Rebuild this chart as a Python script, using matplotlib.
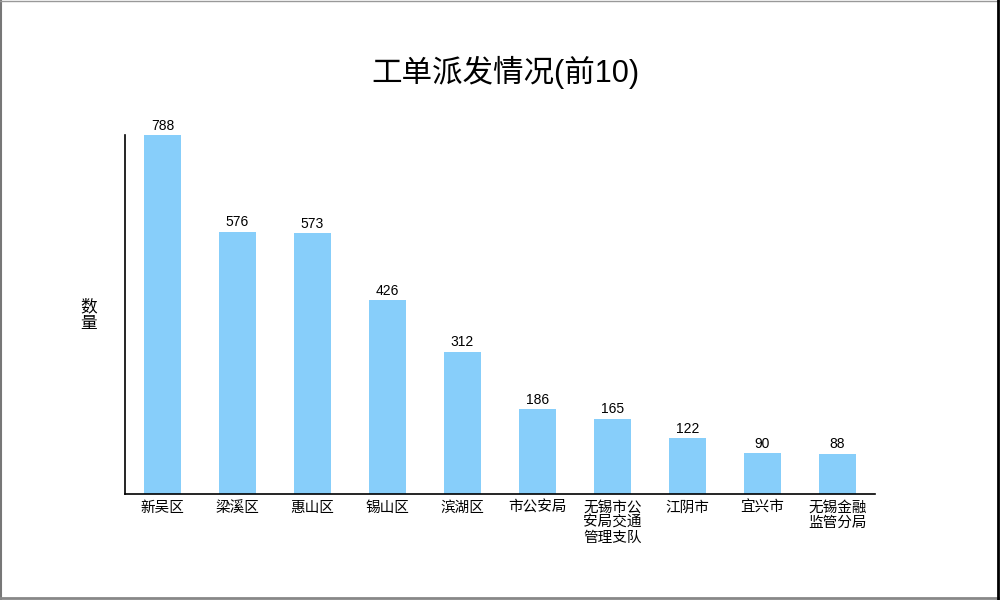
import textwrap
import matplotlib
matplotlib.use("Agg")
import matplotlib.pyplot as plt
from matplotlib.lines import Line2D

plt.rcParams['font.family'] = ['Liberation Sans', 'Noto Sans CJK SC', 'DejaVu Sans']

title = "工单派发情况(前10)"
ylabel = "数量"
categories = ["新吴区", "梁溪区", "惠山区", "锡山区", "滨湖区", "市公安局",
              "无锡市公安局交通管理支队", "江阴市", "宜兴市", "无锡金融监管分局"]
values = [788, 576, 573, 426, 312, 186, 165, 122, 90, 88]

fig = plt.figure(figsize=(10, 6), dpi=100)
ax = fig.add_axes([0.125, 0.177, 0.75, 0.598])

x = list(range(len(categories)))
bars = ax.bar(x, values, width=0.5, color="#87CEFA")
for xi, v in zip(x, values):
    ax.text(xi, v + 5, str(v), ha="center", va="bottom", fontsize=10, color="#000000")

ax.set_xlim(-0.5, len(categories) - 0.5)
ax.set_ylim(0, max(values))
ax.set_xticks(x)
ax.set_xticklabels(["\n".join(textwrap.wrap(c, 4)) for c in categories],
                   fontsize=10.5, linespacing=1.08, va="top")
ax.tick_params(axis="x", length=0, pad=5)
ax.set_yticks([])
for s in ["top", "right"]:
    ax.spines[s].set_visible(False)
ax.spines["left"].set_linewidth(1.2)
ax.spines["bottom"].set_linewidth(1.2)

fig.text(0.089, 0.475, "\n".join(ylabel), ha="center", va="center", fontsize=12, linespacing=1.15)
fig.text(0.505, 0.88, title, ha="center", va="center", fontsize=22)

# figure border
fig.add_artist(Line2D([0.001, 0.001], [0, 1], transform=fig.transFigure, color="#777777", lw=1.5))
fig.add_artist(Line2D([0, 1], [0.998, 0.998], transform=fig.transFigure, color="#999999", lw=1.0))
fig.add_artist(Line2D([0, 1], [0.003, 0.003], transform=fig.transFigure, color="#888888", lw=2))
fig.add_artist(Line2D([0.998, 0.998], [0, 1], transform=fig.transFigure, color="#000000", lw=2))

fig.savefig("out.png", dpi=100)
